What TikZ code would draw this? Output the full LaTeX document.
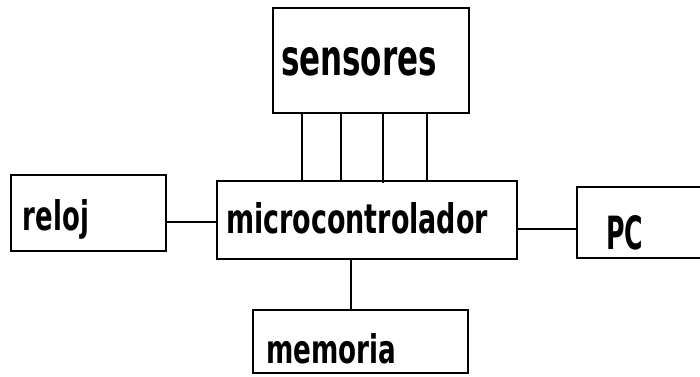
\documentclass[tikz,border=0pt]{standalone}
\usepackage{fontspec}
\setmainfont{DejaVu Sans}
\newfontfamily\condfont{DejaVu Sans Bold}
\newcommand{\fittext}[3]{\resizebox{#1}{#2}{\condfont #3}}
\begin{document}
\begin{tikzpicture}[x=1pt,y=-1pt,
  box/.style={draw=black,line width=1.3pt,rectangle,inner sep=0pt},
  txt/.style={anchor=base west,inner sep=0pt,outer sep=0pt},
  wire/.style={draw=black,line width=1.3pt}]
\useasboundingbox (0,0) rectangle (700,376);
\clip (0,0) rectangle (700,376);
% boxes
\node[box,minimum width=196pt,minimum height=105pt] (sens) at (371,60.5) {};
\node[box,minimum width=300pt,minimum height=78pt] (micro) at (367,220) {};
\node[box,minimum width=155pt,minimum height=76pt] (reloj) at (88.5,213) {};
\node[box,minimum width=215pt,minimum height=63pt] (mem) at (360.5,341.5) {};
\node[box,minimum width=143pt,minimum height=71pt] (pc) at (648.5,222.5) {};
% texts
\node[txt] (senst) at (281,75) {\fittext{156pt}{28pt}{sensores}};
\node[txt] (microt) at (226,233) {\fittext{262pt}{31pt}{microcontrolador}};
\node[txt] (relojt) at (23,230) {\fittext{66pt}{31pt}{reloj}};
\node[txt] (pct) at (606,249) {\fittext{37pt}{34pt}{PC}};
\node[txt] (memt) at (266,363) {\fittext{130pt}{30pt}{memoria}};
% helper coordinates
\coordinate (s1) at (302,0);
\coordinate (s2) at (341,0);
\coordinate (s3) at (383,0);
\coordinate (s4) at (427,0);
\coordinate (lr) at (0,222);
\coordinate (lp) at (0,229);
\coordinate (lm) at (351,0);
% connectors
\draw[wire] (sens.south -| s1) -- (micro.north -| s1);
\draw[wire] (sens.south -| s2) -- (micro.north -| s2);
\draw[wire] (sens.south -| s3) -- ([yshift=-3pt]micro.north -| s3);
\draw[wire] (sens.south -| s4) -- (micro.north -| s4);
\draw[wire] (reloj.east |- lr) -- (micro.west |- lr);
\draw[wire] (micro.east |- lp) -- (pc.west |- lp);
\draw[wire] (micro.south -| lm) -- (mem.north -| lm);
\end{tikzpicture}
\end{document}
